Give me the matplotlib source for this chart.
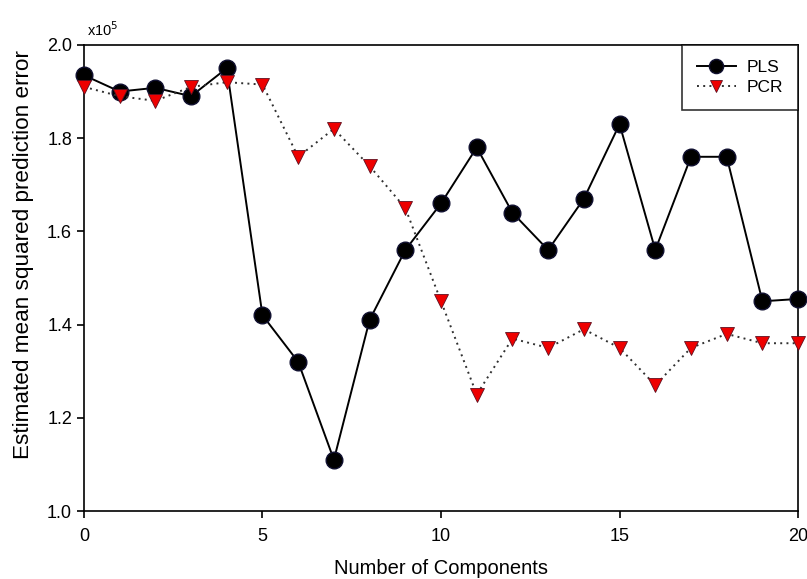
import numpy as np
import matplotlib.pyplot as plt

plt.rcParams['font.family'] = ['Liberation Sans', 'DejaVu Sans']

components = list(range(21))
pls = [1.935, 1.90, 1.908, 1.89, 1.95, 1.42, 1.32, 1.11, 1.41, 1.56, 1.66,
       1.78, 1.64, 1.56, 1.67, 1.83, 1.56, 1.76, 1.76, 1.45, 1.455]
pcr = [1.91, 1.89, 1.88, 1.91, 1.92, 1.915, 1.76, 1.82, 1.74, 1.65, 1.45,
       1.25, 1.37, 1.35, 1.39, 1.35, 1.27, 1.35, 1.38, 1.36, 1.36]

fig = plt.figure(figsize=(8.07, 5.79), dpi=100)
ax = fig.add_axes([0.104, 0.1174, 0.885, 0.805])

ax.plot(components, pls, color='black', lw=1.4, marker='o', ms=12,
        mfc='black', mec='#101030', label='PLS', clip_on=False, zorder=3)
ax.plot(components, pcr, color='#303030', lw=1.4, ls=(0, (1, 2.2)), marker='v',
        ms=10.5, mfc='#ee0000', mec='#601020', mew=0.6, label='PCR',
        clip_on=False, zorder=4)

ax.set_xlim(0, 20)
ax.set_ylim(1.0, 2.0)
ax.set_xticks([0, 5, 10, 15, 20])
ax.set_yticks([1.0, 1.2, 1.4, 1.6, 1.8, 2.0])
ax.set_yticklabels(["1.0", "1.2", "1.4", "1.6", "1.8", "2.0"])
ax.tick_params(direction='out', length=5, width=1.2, labelsize=13, colors='black')
ax.tick_params(axis='x', pad=7)
for s in ax.spines.values():
    s.set_linewidth(1.2)

ax.text(0.005, 1.012, r"x10$^5$", transform=ax.transAxes, fontsize=10.5, va='bottom', ha='left')
ax.set_xlabel("Number of Components", fontsize=14.5, labelpad=10)
ax.set_ylabel("Estimated mean squared prediction error", fontsize=16.2)
ax.yaxis.set_label_coords(-0.07, 0.55)

leg = ax.legend(loc='upper right', fontsize=12.5, frameon=True, fancybox=False,
                edgecolor='black', borderaxespad=0, handlelength=2.3,
                handletextpad=0.6, borderpad=0.85, labelspacing=0.3,
                markerscale=0.85)
leg.get_frame().set_linewidth(1.2)

plt.savefig("out.png", dpi=100)
